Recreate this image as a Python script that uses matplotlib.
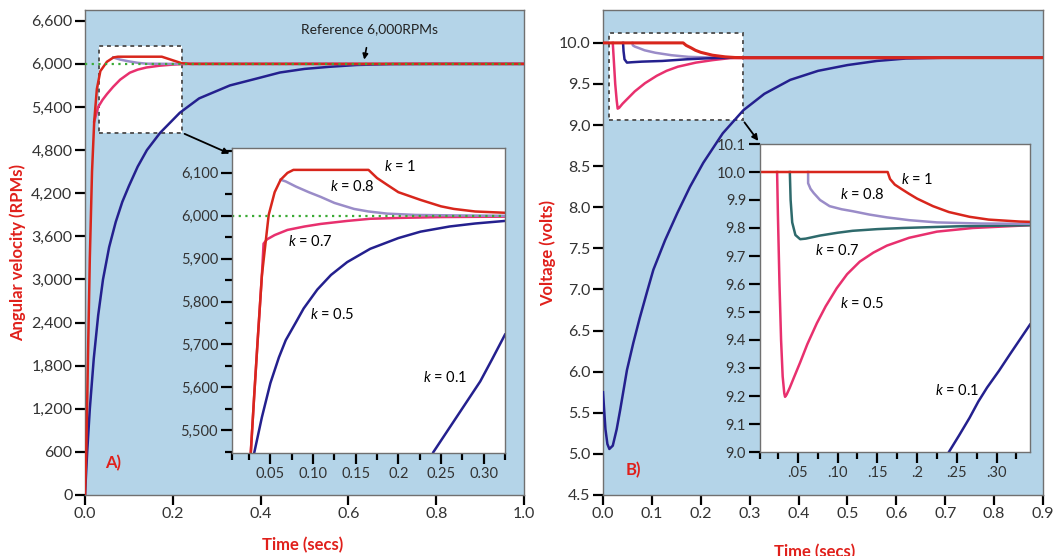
import matplotlib
matplotlib.use('Agg')
import matplotlib.pyplot as plt
from matplotlib.patches import Rectangle
from matplotlib.ticker import MultipleLocator, FuncFormatter

plt.rcParams['font.family'] = ['Lato', 'DejaVu Sans']
plt.rcParams['mathtext.fontset'] = 'custom'
plt.rcParams['mathtext.it'] = 'Lato:italic'
plt.rcParams['mathtext.rm'] = 'Lato'

# ---------------- panel A: motor speed (RPM) ----------------
tA_k1 = [0, 0.003, 0.007, 0.011, 0.016, 0.021, 0.027, 0.035, 0.05, 0.065, 0.075, 0.175, 0.2, 0.22, 0.24, 1.0]
rpmA_k1 = [0, 600, 2000, 3300, 4500, 5200, 5650, 5900, 6030, 6090, 6100, 6100, 6050, 6010, 6000, 6000]
tA_k08 = [0.064, 0.08, 0.1, 0.12, 0.14, 0.2, 1.0]
rpmA_k08 = [6090, 6060, 6035, 6015, 6003, 6000, 6000]
tA_k07 = [0.021, 0.03, 0.04, 0.05, 0.064, 0.08, 0.102, 0.12, 0.14, 0.17, 0.2, 0.23, 1.0]
rpmA_k07 = [5200, 5400, 5500, 5580, 5680, 5780, 5877, 5920, 5950, 5975, 5990, 6000, 6000]
tA_k01 = [0, 0.005, 0.011, 0.02, 0.03, 0.041, 0.055, 0.07, 0.085, 0.1, 0.12, 0.141, 0.171, 0.216,
          0.26, 0.33, 0.4, 0.444, 0.5, 0.558, 0.62, 0.7, 0.8, 1.0]
rpmA_k01 = [0, 600, 1200, 1900, 2500, 3000, 3450, 3800, 4080, 4300, 4570, 4800, 5040, 5320,
            5520, 5700, 5810, 5880, 5930, 5960, 5985, 5997, 6000, 6000]

# inset A (zoom)
tAi_k1 = [0.027, 0.031, 0.035, 0.04, 0.048, 0.055, 0.062, 0.07, 0.077, 0.165, 0.175, 0.187, 0.2,
          0.226, 0.25, 0.265, 0.29, 0.325]
rpmAi_k1 = [5447, 5580, 5707, 5860, 6002, 6055, 6084, 6100, 6107, 6107, 6088, 6072, 6055,
            6037, 6022, 6016, 6010, 6007]
tAi_k08 = [0.062, 0.068, 0.08, 0.095, 0.109, 0.125, 0.148, 0.165, 0.187, 0.22, 0.26, 0.325]
rpmAi_k08 = [6084, 6080, 6068, 6055, 6044, 6030, 6016, 6010, 6005, 6002, 6001, 6000]
tAi_k07 = [0.027, 0.031, 0.035, 0.04, 0.042, 0.046, 0.055, 0.07, 0.09, 0.109, 0.14, 0.167, 0.2, 0.25, 0.325]
rpmAi_k07 = [5447, 5580, 5707, 5860, 5935, 5945, 5955, 5967, 5975, 5981, 5988, 5993, 5995, 5997, 5998]
tAi_k05 = [0.031, 0.04, 0.05, 0.06, 0.068, 0.08, 0.089, 0.105, 0.121, 0.14, 0.167, 0.2, 0.226, 0.26, 0.29, 0.325]
rpmAi_k05 = [5447, 5530, 5610, 5670, 5710, 5752, 5784, 5828, 5862, 5892, 5923, 5948, 5963, 5975, 5982, 5988]
tAi_k01 = [0.241, 0.253, 0.265, 0.28, 0.296, 0.31, 0.325]
rpmAi_k01 = [5449, 5485, 5521, 5566, 5614, 5666, 5723]
ref_rpm = 6000

# ---------------- panel B: voltage ----------------
tB_k01 = [0, 0.005, 0.009, 0.013, 0.02, 0.028, 0.035, 0.049, 0.062, 0.075, 0.09, 0.103, 0.127, 0.152,
          0.178, 0.205, 0.245, 0.287, 0.33, 0.383, 0.44, 0.5, 0.56, 0.62, 0.7, 0.9]
vB_k01 = [5.75, 5.3, 5.12, 5.06, 5.1, 5.3, 5.53, 6.02, 6.35, 6.65, 6.97, 7.24, 7.6, 7.93,
          8.25, 8.54, 8.9, 9.18, 9.38, 9.55, 9.66, 9.73, 9.78, 9.81, 9.82, 9.82]
tB_k1 = [0, 0.164, 0.17, 0.18, 0.189, 0.2, 0.224, 0.25, 0.27, 0.3, 0.9]
vB_k1 = [10, 10, 9.97, 9.94, 9.91, 9.885, 9.85, 9.83, 9.822, 9.82, 9.82]
tB_k07 = [0.041, 0.042, 0.044, 0.049, 0.06, 0.08, 0.121, 0.17, 0.224, 0.28, 0.9]
vB_k07 = [10.0, 9.9, 9.8, 9.76, 9.765, 9.772, 9.78, 9.8, 9.815, 9.82, 9.82]
tB_k08 = [0.06, 0.061, 0.065, 0.072, 0.085, 0.107, 0.14, 0.175, 0.22, 0.28, 0.9]
vB_k08 = [10.0, 9.97, 9.955, 9.94, 9.91, 9.88, 9.85, 9.83, 9.822, 9.82, 9.82]
tB_k05 = [0.02, 0.022, 0.025, 0.028, 0.03, 0.033, 0.04, 0.05, 0.065, 0.086, 0.11, 0.13, 0.153,
          0.19, 0.224, 0.26, 0.9]
vB_k05 = [10.0, 9.8, 9.5, 9.3, 9.2, 9.21, 9.26, 9.32, 9.41, 9.51, 9.6, 9.66, 9.71,
          9.76, 9.79, 9.815, 9.82]

# inset B (zoom)
tBi_k1 = [0.0025, 0.163, 0.166, 0.172, 0.18, 0.19, 0.2, 0.22, 0.24, 0.266, 0.29, 0.329, 0.342]
vBi_k1 = [10, 10, 9.975, 9.955, 9.94, 9.922, 9.905, 9.878, 9.857, 9.84, 9.83, 9.823, 9.822]
tBi_k08 = [0.063, 0.063, 0.066, 0.07, 0.078, 0.09, 0.105, 0.119, 0.14, 0.162, 0.19, 0.225, 0.28, 0.342]
vBi_k08 = [10.0, 9.96, 9.94, 9.925, 9.9, 9.878, 9.867, 9.86, 9.848, 9.838, 9.828, 9.82, 9.816, 9.815]
tBi_k07 = [0.04, 0.041, 0.043, 0.047, 0.053, 0.06, 0.078, 0.1, 0.119, 0.15, 0.182, 0.25, 0.342]
vBi_k07 = [10.0, 9.9, 9.82, 9.775, 9.76, 9.762, 9.773, 9.783, 9.79, 9.796, 9.8, 9.806, 9.81]
tBi_k05 = [0.024, 0.025, 0.027, 0.029, 0.031, 0.033, 0.034, 0.036, 0.04, 0.045, 0.053, 0.062, 0.074,
           0.085, 0.099, 0.112, 0.128, 0.145, 0.162, 0.19, 0.225, 0.27, 0.342]
vBi_k05 = [10.0, 9.85, 9.6, 9.4, 9.27, 9.21, 9.197, 9.205, 9.23, 9.265, 9.32, 9.385, 9.46,
           9.52, 9.585, 9.635, 9.68, 9.712, 9.737, 9.765, 9.787, 9.8, 9.81]
tBi_k01 = [0.24, 0.253, 0.266, 0.277, 0.288, 0.303, 0.317, 0.342]
vBi_k01 = [9.0, 9.06, 9.122, 9.18, 9.23, 9.29, 9.35, 9.455]

BG = '#b4d4e8'
RED = '#d8261c'
PINK = '#e8306e'
NAVY = '#24208e'
LAV = '#9a8cc8'
TEAL = '#2e6a6c'
GREEN = '#3aaa35'
LBL = '#e0201b'
LW = 1.8

fig = plt.figure(figsize=(10.53, 5.56), dpi=100)
W, H = 1053, 556


def px_axes(x0, y0, x1, y1):
    return fig.add_axes([x0 / W, 1 - y1 / H, (x1 - x0) / W, (y1 - y0) / H])


def style(ax, bg, fs=11, major=7, minor=5):
    ax.set_facecolor(bg)
    for s in ax.spines.values():
        s.set_color('#707070')
        s.set_linewidth(1.0)
    ax.tick_params(which='major', direction='out', length=major, width=1.6, color='black',
                   labelsize=fs, labelcolor='#333333', pad=2)
    ax.tick_params(which='minor', direction='out', length=minor, width=1.6, color='black')


# ===== panel A main =====
axA = px_axes(85, 10, 524, 495)
style(axA, BG, fs=11.5)
axA.set_xlim(0, 1.0)
axA.set_ylim(0, 6750)
axA.set_xticks([0, 0.2, 0.4, 0.6, 0.8, 1.0])
axA.set_xticklabels(['0.0', '0.2', '0.4', '0.6', '0.8', '1.0'])
axA.set_yticks(range(0, 6601, 600))
axA.yaxis.set_major_formatter(FuncFormatter(lambda v, p: f'{int(v):,}'))
axA.add_patch(Rectangle((0.032, 5042), 0.221 - 0.032, 6253 - 5042, fc='white', ec='#555555',
                        ls=(0, (2, 2)), lw=1.4, zorder=1))
axA.plot(tA_k01, rpmA_k01, color=NAVY, lw=LW, zorder=3)
axA.plot(tA_k07, rpmA_k07, color=PINK, lw=LW, zorder=3)
axA.plot(tA_k08, rpmA_k08, color=LAV, lw=LW, zorder=3)
axA.plot(tA_k1, rpmA_k1, color=RED, lw=LW, zorder=4)
axA.axhline(ref_rpm, color=GREEN, lw=1.6, ls=(0, (1, 2)), zorder=5)
axA.annotate('', xy=(0.335, 4735), xytext=(0.221, 5042),
             arrowprops=dict(arrowstyle='-|>', color='black', lw=1.3, mutation_scale=9), zorder=6)
axA.annotate('Reference 6,000RPMs', xy=(0.636, 6060), xytext=(0.649, 6480),
             ha='center', va='center', fontsize=10, color='#222222',
             arrowprops=dict(arrowstyle='-|>', color='black', lw=1.2, mutation_scale=8,
                             shrinkA=7, shrinkB=0), zorder=6)
axA.text(0.064, 0.066, 'A)', transform=axA.transAxes, color=LBL, fontsize=12,
         fontweight='bold', ha='center', va='center')
axA.text(-0.152, 0.5, 'Angular velocity (RPMs)', transform=axA.transAxes, color=LBL,
         fontsize=12, fontweight='bold', rotation=90, ha='center', va='center')
axA.text(0.495, -0.103, 'Time (secs)', transform=axA.transAxes, color=LBL,
         fontsize=12, fontweight='bold', ha='center', va='center')

# inset A
iA = px_axes(232, 148, 505, 453)
style(iA, 'white', fs=10.5, major=8, minor=5)
iA.set_xlim(0.005, 0.325)
iA.set_ylim(5447, 6158)
iA.set_xticks([0.05, 0.10, 0.15, 0.2, 0.25, 0.30])
iA.set_xticklabels(['0.05', '0.10', '0.15', '0.2', '0.25', '0.30'])
iA.set_xticks([0.005, 0.025, 0.075, 0.125, 0.175, 0.225, 0.275, 0.325], minor=True)
iA.set_yticks(range(5500, 6101, 100))
iA.yaxis.set_minor_locator(MultipleLocator(50))
iA.yaxis.set_major_formatter(FuncFormatter(lambda v, p: f'{int(v):,}'))
iA.plot(tAi_k01, rpmAi_k01, color=NAVY, lw=LW)
iA.plot(tAi_k05, rpmAi_k05, color=NAVY, lw=LW)
iA.plot(tAi_k07, rpmAi_k07, color=PINK, lw=LW)
iA.plot(tAi_k08, rpmAi_k08, color=LAV, lw=LW)
iA.plot(tAi_k1, rpmAi_k1, color=RED, lw=LW)
iA.axhline(ref_rpm, color=GREEN, lw=1.6, ls=(0, (1, 2)))
kfs = 10.5
iA.text(0.183, 6114, '$k$ = 1', fontsize=kfs, ha='left', va='center')
iA.text(0.12, 6068, '$k$ = 0.8', fontsize=kfs, ha='left', va='center')
iA.text(0.071, 5939, '$k$ = 0.7', fontsize=kfs, ha='left', va='center')
iA.text(0.096, 5769, '$k$ = 0.5', fontsize=kfs, ha='left', va='center')
iA.text(0.229, 5624, '$k$ = 0.1', fontsize=kfs, ha='left', va='center')

# ===== panel B main =====
axB = px_axes(603, 10, 1043, 495)
style(axB, BG, fs=11.5)
axB.set_xlim(0, 0.9)
axB.set_ylim(4.5, 10.4)
axB.set_xticks([0, 0.1, 0.2, 0.3, 0.4, 0.5, 0.6, 0.7, 0.8, 0.9])
axB.set_xticklabels(['0.0', '0.1', '0.2', '0.3', '0.4', '0.5', '0.6', '0.7', '0.8', '0.9'])
axB.set_yticks([4.5, 5.0, 5.5, 6.0, 6.5, 7.0, 7.5, 8.0, 8.5, 9.0, 9.5, 10.0])
axB.yaxis.set_major_formatter(FuncFormatter(lambda v, p: f'{v:.1f}'))
axB.add_patch(Rectangle((0.012, 9.06), 0.286 - 0.012, 10.12 - 9.06, fc='white', ec='#555555',
                        ls=(0, (2, 2)), lw=1.4, zorder=1))
axB.plot(tB_k01, vB_k01, color=NAVY, lw=LW, zorder=3)
axB.plot(tB_k05, vB_k05, color=PINK, lw=LW, zorder=3)
axB.plot(tB_k08, vB_k08, color=LAV, lw=LW, zorder=3)
axB.plot(tB_k07, vB_k07, color=NAVY, lw=LW, zorder=3)
axB.plot(tB_k1, vB_k1, color=RED, lw=2.2, zorder=4)
axB.annotate('', xy=(0.321, 8.78), xytext=(0.286, 9.06),
             arrowprops=dict(arrowstyle='-|>', color='black', lw=1.3, mutation_scale=9), zorder=6)
axB.text(0.068, 0.052, 'B)', transform=axB.transAxes, color=LBL, fontsize=12,
         fontweight='bold', ha='center', va='center')
axB.text(-0.125, 0.5, 'Voltage (volts)', transform=axB.transAxes, color=LBL,
         fontsize=12, fontweight='bold', rotation=90, ha='center', va='center')
axB.text(0.48, -0.117, 'Time (secs)', transform=axB.transAxes, color=LBL,
         fontsize=12, fontweight='bold', ha='center', va='center')

# inset B
iB = px_axes(760, 144, 1030, 452)
style(iB, 'white', fs=10.5, major=8, minor=5)
iB.set_xlim(0.0025, 0.342)
iB.set_ylim(9.0, 10.1)
iB.set_xticks([0.05, 0.10, 0.15, 0.2, 0.25, 0.30])
iB.set_xticklabels(['.05', '.10', '.15', '.2', '.25', '.30'])
iB.set_xticks([0.0025, 0.025, 0.075, 0.125, 0.175, 0.225, 0.275, 0.325], minor=True)
iB.set_yticks([9.0, 9.1, 9.2, 9.3, 9.4, 9.5, 9.6, 9.7, 9.8, 9.9, 10.0, 10.1])
iB.yaxis.set_major_formatter(FuncFormatter(lambda v, p: f'{v:.1f}'))
iB.plot(tBi_k01, vBi_k01, color=NAVY, lw=LW)
iB.plot(tBi_k05, vBi_k05, color=PINK, lw=LW)
iB.plot(tBi_k07, vBi_k07, color=TEAL, lw=LW)
iB.plot(tBi_k08, vBi_k08, color=LAV, lw=LW)
iB.plot(tBi_k1, vBi_k1, color=RED, lw=LW)
iB.text(0.18, 9.972, '$k$ = 1', fontsize=kfs, ha='left', va='center')
iB.text(0.103, 9.92, '$k$ = 0.8', fontsize=kfs, ha='left', va='center')
iB.text(0.072, 9.72, '$k$ = 0.7', fontsize=kfs, ha='left', va='center')
iB.text(0.103, 9.53, '$k$ = 0.5', fontsize=kfs, ha='left', va='center')
iB.text(0.222, 9.22, '$k$ = 0.1', fontsize=kfs, ha='left', va='center')

fig.savefig('out.png', dpi=100)
